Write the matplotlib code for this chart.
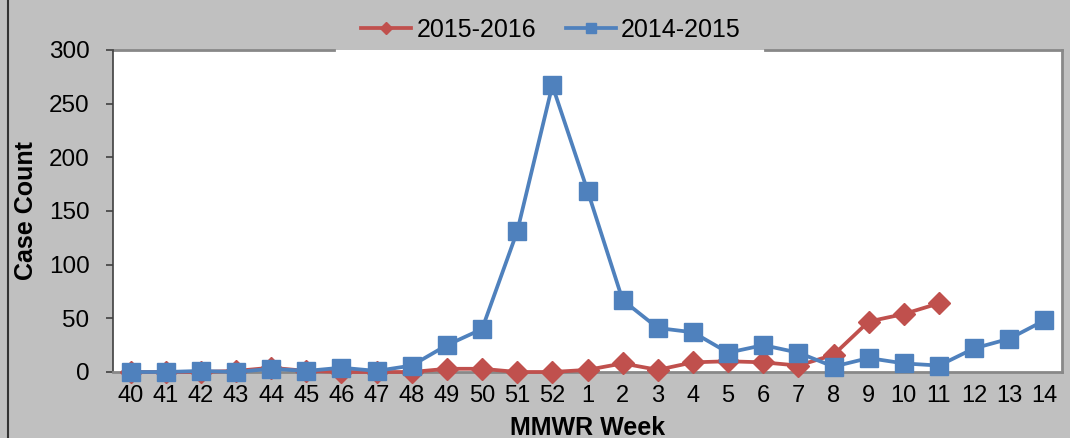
import matplotlib.pyplot as plt
from matplotlib.lines import Line2D

weeks = ['40', '41', '42', '43', '44', '45', '46', '47', '48', '49', '50', '51', '52',
         '1', '2', '3', '4', '5', '6', '7', '8', '9', '10', '11', '12', '13', '14']
cases_1516 = [0, 0, 0, 1, 4, 1, 0, 0, 0, 3, 3, 0, 0, 2, 8, 2, 9, 10, 9, 6, 16, 47, 54, 64]
cases_1415 = [0, 0, 1, 0, 3, 1, 4, 1, 6, 25, 40, 131, 267, 169, 67, 41, 37, 18, 25, 18,
              5, 13, 8, 6, 22, 31, 48]

red = '#C0504D'
blue = '#4F81BD'
bg = '#C0C0C0'

plt.rcParams['font.family'] = ['Liberation Sans', 'DejaVu Sans']

fig = plt.figure(figsize=(10.7, 4.38), dpi=100, facecolor=bg)
ax = fig.add_axes([113 / 1070, 66 / 438, 949 / 1070, 322 / 438])
ax.set_facecolor('white')

x1 = list(range(len(cases_1516)))
x2 = list(range(len(cases_1415)))
ax.plot(x1, cases_1516, color=red, lw=2.7, marker='D', ms=11, label='2015-2016',
        clip_on=False, zorder=3)
ax.plot(x2, cases_1415, color=blue, lw=2.7, marker='s', ms=13, label='2014-2015',
        clip_on=False, zorder=4)

ax.set_xlim(-0.5, len(weeks) - 0.5)
ax.set_ylim(0, 300)
ax.set_yticks(range(0, 301, 50))
ax.set_xticks(x2)
ax.set_xticklabels(weeks)
ax.tick_params(axis='x', length=0, pad=9, labelsize=17)
ax.tick_params(axis='y', length=5, width=1.2, color='#404040', pad=12, labelsize=17.5)

ax.spines['left'].set_color('#404040')
ax.spines['left'].set_linewidth(1.2)
for s in ['bottom', 'right']:
    ax.spines[s].set_color('#888888')
    ax.spines[s].set_linewidth(2)
ax.spines['top'].set_visible(False)
# top frame is broken where the legend sits
for a, b in [(0, 0.233), (0.687, 1)]:
    ax.add_line(Line2D([a, b], [1, 1], transform=ax.transAxes, color='#888888',
                       lw=2, clip_on=False))

ax.set_xlabel('MMWR Week', fontsize=18, fontweight='bold', labelpad=7)
ax.set_ylabel('Case Count', fontsize=18, fontweight='bold', labelpad=8)

fig.legend(loc='center', bbox_to_anchor=(551 / 1070, 1 - 30 / 438), ncol=2,
           frameon=False, fontsize=18, markerscale=0.6, handlelength=2.0,
           handletextpad=0.2, columnspacing=1.2)

fig.add_artist(Line2D([8 / 1070, 8 / 1070], [0, 1], color='#333333', lw=1.5))

fig.savefig('out.png', dpi=100, facecolor=bg)
